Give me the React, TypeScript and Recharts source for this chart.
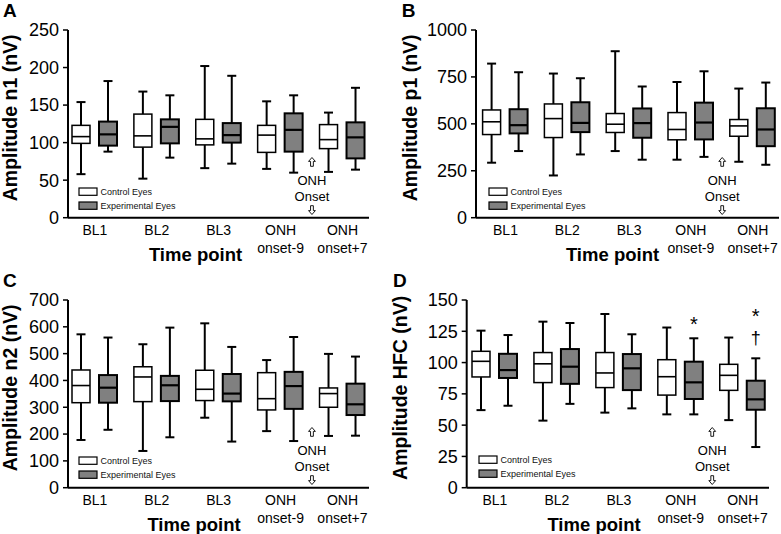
import React from 'react';
import { ComposedChart, Bar, XAxis, YAxis, Legend, ReferenceDot, LabelList } from 'recharts';

const FONT = '"Liberation Sans", Arial, Helvetica, sans-serif';

const timePoints = ['BL1', 'BL2', 'BL3', 'ONH onset-9', 'ONH onset+7'];
const seriesNames = ['Control Eyes', 'Experimental Eyes'];
const onsetLabel = ['ONH', 'Onset'];

// each entry: [min, q1, median, q3, max]
const n1Control = [[58, 99, 108, 123, 154], [52, 94, 109, 138, 168], [66, 97, 105, 131, 202], [65, 87, 110, 123, 155], [61, 92, 104, 124, 140]];
const n1Experimental = [[88, 96, 111, 128, 182], [80, 99, 121, 131, 163], [72, 100, 110, 126, 189], [60, 88, 117, 139, 163], [64, 79, 107, 127, 173]];
const p1Control = [[293, 443, 511, 574, 821], [225, 427, 528, 606, 768], [355, 454, 498, 555, 887], [309, 415, 470, 560, 723], [298, 434, 489, 523, 688]];
const p1Experimental = [[355, 449, 493, 578, 775], [337, 456, 505, 615, 743], [309, 426, 504, 582, 699], [324, 417, 507, 613, 780], [282, 381, 470, 583, 720]];
const n2Control = [[178, 317, 381, 439, 572], [137, 321, 413, 451, 535], [261, 325, 367, 438, 613], [211, 290, 332, 429, 476], [193, 300, 351, 372, 499]];
const n2Experimental = [[216, 317, 373, 420, 560], [188, 323, 382, 417, 597], [172, 322, 351, 424, 525], [174, 294, 379, 432, 562], [194, 271, 311, 388, 489]];
const hfcControl = [[62, 88.5, 101, 109, 125.5], [53.6, 84, 99, 108, 132.7], [60, 80, 91.7, 108, 138.8], [58.6, 74, 88.7, 102.3, 128], [54, 77.8, 89.8, 98.6, 120]];
const hfcExperimental = [[65.5, 87.7, 94, 107, 122], [67, 83, 96.7, 110.8, 131.6], [63.4, 78, 95.4, 106.8, 122.6], [58.6, 70.9, 84.2, 100.7, 119.4], [32.5, 62.3, 70.6, 85.5, 103.4]];
const hfcSignificance = ['', '', '', '*', '*\u2020'];

const n1Ticks = [0, 50, 100, 150, 200, 250];
const p1Ticks = [0, 250, 500, 750, 1000];
const n2Ticks = [0, 100, 200, 300, 400, 500, 600, 700];
const hfcTicks = [0, 25, 50, 75, 100, 125, 150];

const buildRows = (ctrl: number[][], exp: number[][], marks?: string[]) =>
  timePoints.map((t, i) => ({
    time: t,
    control: ctrl[i],
    experimental: exp[i],
    controlRange: [ctrl[i][0], ctrl[i][4]],
    experimentalRange: [exp[i][0], exp[i][4]],
    mark: marks ? marks[i] : '',
  }));

const makeBoxShape = (key: string, boxStroke: number, medStroke: number) => (props: any) => {
  const { x, y, width, height, payload, fill } = props;
  const [lo, q1, med, q3, hi] = payload[key];
  const top = Math.min(y, y + height);
  const h = Math.abs(height);
  const py = (v: number) => top + (h * (hi - v)) / (hi - lo);
  const cx = x + width / 2;
  const cap = 4.5;
  return (
    <g>
      <line x1={cx} x2={cx} y1={py(hi)} y2={py(q3)} stroke="#000" strokeWidth={2} />
      <line x1={cx} x2={cx} y1={py(q1)} y2={py(lo)} stroke="#000" strokeWidth={2} />
      <line x1={cx - cap} x2={cx + cap} y1={py(hi)} y2={py(hi)} stroke="#000" strokeWidth={2} />
      <line x1={cx - cap} x2={cx + cap} y1={py(lo)} y2={py(lo)} stroke="#000" strokeWidth={2} />
      <rect x={x} y={py(q3)} width={width} height={py(q1) - py(q3)} fill={fill} stroke="#000" strokeWidth={boxStroke} />
      <line x1={x} x2={x + width} y1={py(med)} y2={py(med)} stroke="#000" strokeWidth={medStroke} />
    </g>
  );
};

const controlShape = makeBoxShape('control', 1.5, 1.6);
const experimentalShape = makeBoxShape('experimental', 2, 2.2);

const XTick = (props: any) => {
  const { x, y, payload } = props;
  const parts = String(payload.value).split(' ');
  return (
    <g>
      {parts.map((p, i) => (
        <text key={i} x={x} y={y + 17.3 + i * 18} textAnchor="middle" fontSize={14} fontFamily={FONT} fill="#000">
          {p}
        </text>
      ))}
    </g>
  );
};

const LegendBox = (props: any) => {
  const { payload } = props;
  return (
    <svg width={130} height={30} style={{ display: 'block', overflow: 'visible' }}>
      {(payload || []).map((item: any, i: number) => (
        <g key={i}>
          <rect x={1} y={1 + i * 14} width={18} height={7.3} fill={item.color} stroke="#000" strokeWidth={1.2} />
          <text x={22.5} y={8.3 + i * 14} fontSize={9} fontFamily={FONT} fill="#111">
            {item.value}
          </text>
        </g>
      ))}
    </svg>
  );
};

const SigLabel = (props: any) => {
  const vb = props.viewBox || props;
  const { x, y, width, height } = vb;
  const value = props.value;
  if (!value) return null;
  const top = Math.min(y, y + height);
  const cx = x + width / 2;
  const hasDagger = String(value).includes('\u2020');
  return (
    <g>
      {hasDagger && (
        <text x={cx} y={top - 14.5} textAnchor="middle" fontSize={18} fontFamily={FONT} fill="#000">
          {'\u2020'}
        </text>
      )}
      <text x={cx} y={hasDagger ? top - 35.2 : top - 7.6} textAnchor="middle" fontSize={20} fontFamily={FONT} fill="#000">
        *
      </text>
    </g>
  );
};

// hollow block arrow (like the ⇧ / ⇩ glyphs), dir = -1 up, +1 down
const HollowArrow = ({ x, y, dir }: { x: number; y: number; dir: number }) => {
  const s = dir;
  const pts = [
    [0, -4.5 * s], [3.4, -0.6 * s], [1.4, -0.6 * s], [1.4, 4.3 * s], [-1.4, 4.3 * s], [-1.4, -0.6 * s], [-3.4, -0.6 * s],
  ].map(([dx, dy]) => `${x + dx},${y + dy}`).join(' ');
  return <polygon points={pts} fill="#fff" stroke="#000" strokeWidth={0.9} strokeLinejoin="miter" />;
};

const OnsetNote = (props: any) => {
  const { cx, cy } = props;
  const x = cx - 30.5;
  return (
    <g>
      <HollowArrow x={x} y={cy - 55.7} dir={1} />
      <text x={x} y={cy - 33} textAnchor="middle" fontSize={13} fontFamily={FONT} fill="#000">
        {onsetLabel[0]}
      </text>
      <text x={x} y={cy - 17} textAnchor="middle" fontSize={13} fontFamily={FONT} fill="#000">
        {onsetLabel[1]}
      </text>
      <HollowArrow x={x} y={cy - 7.7} dir={-1} />
    </g>
  );
};

const panels = [
  {
    letter: 'A', left: 0, top: 0, width: 390, yLabel: 'Amplitude n1 (nV)', rows: buildRows(n1Control, n1Experimental),
    ticks: n1Ticks, yAxisWidth: 68, marginTop: 30, marginRight: 21, xAxisHeight: 49.3, padL: -4, padR: -4.4,
    legendLeft: 78, legendTop: 186.7, yLabelX: 10, timeX: 127.5, letterX: 3, letterY: 17,
  },
  {
    letter: 'B', left: 390, top: 0, width: 391, yLabel: 'Amplitude p1 (nV)', rows: buildRows(p1Control, p1Experimental),
    ticks: p1Ticks, yAxisWidth: 86, marginTop: 30, marginRight: 2, xAxisHeight: 49.3, padL: -1.4, padR: -4.6,
    legendLeft: 98.3, legendTop: 186.7, yLabelX: 20, timeX: 136.5, letterX: 11.7, letterY: 17,
  },
  {
    letter: 'C', left: 0, top: 267, width: 390, yLabel: 'Amplitude n2 (nV)', rows: buildRows(n2Control, n2Experimental),
    ticks: n2Ticks, yAxisWidth: 68, marginTop: 33, marginRight: 21, xAxisHeight: 46.3, padL: -4, padR: -4.4,
    legendLeft: 78, legendTop: 189, yLabelX: 10, timeX: 126, letterX: 3, letterY: 20,
  },
  {
    letter: 'D', left: 390, top: 267, width: 391, yLabel: 'Amplitude HFC (nV)', rows: buildRows(hfcControl, hfcExperimental, hfcSignificance),
    ticks: hfcTicks, yAxisWidth: 76.7, marginTop: 33, marginRight: 12, xAxisHeight: 46.3, padL: -2.7, padR: -4.7,
    legendLeft: 88.3, legendTop: 188.3, yLabelX: 10, timeX: 127.3, letterX: 3, letterY: 20, sig: true,
  },
];

const Panel = ({ p }: { p: any }) => {
  const maxY = p.ticks[p.ticks.length - 1];
  return (
    <div style={{ position: 'absolute', left: p.left, top: p.top, width: p.width, height: 267 }}>
      <ComposedChart
        width={p.width}
        height={267}
        data={p.rows}
        margin={{ top: p.marginTop, right: p.marginRight, bottom: 0, left: 0 }}
        barGap={9}
      >
        <XAxis
          dataKey="time"
          type="category"
          interval={0}
          tickLine={false}
          tickSize={0}
          tickMargin={0}
          height={p.xAxisHeight}
          padding={{ left: p.padL, right: p.padR }}
          axisLine={{ stroke: '#000', strokeWidth: 2 }}
          tick={(tp: any) => <XTick {...tp} />}
          label={(lp: any) => {
            const vb = lp.viewBox;
            return (
              <text x={vb.x + p.timeX} y={vb.y + 43.5} textAnchor="middle" fontSize={18.5} fontWeight="bold" fontFamily={FONT} fill="#000">
                Time point
              </text>
            );
          }}
        />
        <YAxis
          type="number"
          domain={[0, maxY]}
          ticks={p.ticks}
          interval={0}
          width={p.yAxisWidth}
          tickSize={5}
          tickMargin={4}
          tickLine={{ stroke: '#000', strokeWidth: 1.5 }}
          axisLine={{ stroke: '#000', strokeWidth: 2 }}
          tick={{ fontSize: 18, fill: '#000', fontFamily: FONT }}
          label={(lp: any) => {
            const vb = lp.viewBox;
            const cx = vb.x + p.yLabelX;
            const cy = vb.y + vb.height / 2 - 6;
            return (
              <text x={cx} y={cy} dy="0.36em" transform={`rotate(-90 ${cx} ${cy})`} textAnchor="middle" fontSize={19.5} fontWeight="bold" fontFamily={FONT} fill="#000">
                {p.yLabel}
              </text>
            );
          }}
        />
        <Legend
          layout="vertical"
          align="center"
          verticalAlign="middle"
          wrapperStyle={{ left: p.legendLeft, top: p.legendTop, width: 130, height: 30 }}
          content={(lp: any) => <LegendBox {...lp} />}
        />
        <Bar dataKey="controlRange" name={seriesNames[0]} fill="#ffffff" barSize={18} shape={controlShape} isAnimationActive={false} />
        <Bar dataKey="experimentalRange" name={seriesNames[1]} fill="#808080" barSize={18} shape={experimentalShape} isAnimationActive={false}>
          {p.sig && <LabelList dataKey="mark" content={(lp: any) => <SigLabel {...lp} />} />}
        </Bar>
        <ReferenceDot x={timePoints[4]} y={0} r={0} ifOverflow="visible" shape={(dp: any) => <OnsetNote {...dp} />} />
      </ComposedChart>
      <svg width={40} height={30} style={{ position: 'absolute', left: 0, top: 0, pointerEvents: 'none' }}>
        <text x={p.letterX} y={p.letterY} fontSize={19} fontWeight="bold" fontFamily={FONT} fill="#000">
          {p.letter}
        </text>
      </svg>
    </div>
  );
};

export default function App() {
  return (
    <div style={{ position: 'absolute', left: 0, top: 0, width: 781, height: 534, background: '#fff', overflow: 'hidden' }}>
      {panels.map((p) => (
        <Panel key={p.letter} p={p} />
      ))}
    </div>
  );
}
